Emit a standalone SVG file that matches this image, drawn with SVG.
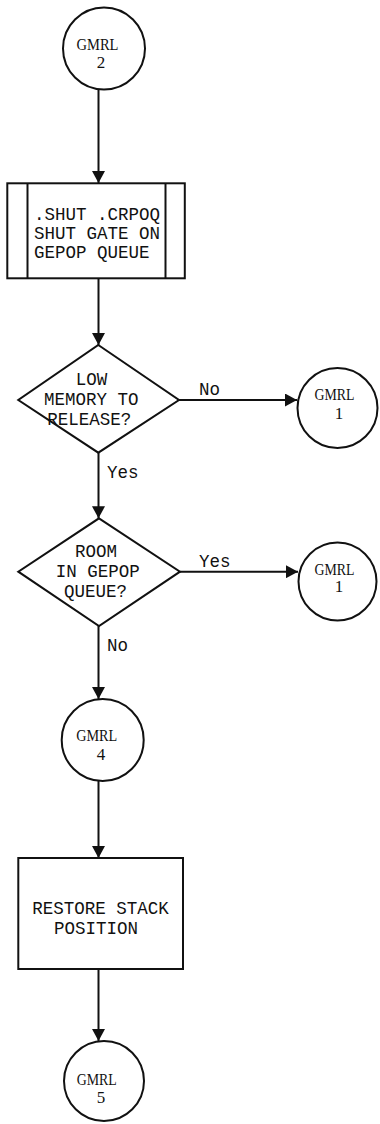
<svg xmlns="http://www.w3.org/2000/svg" width="380" height="1124" viewBox="0 0 380 1124">
<defs>
<style>
.shape{fill:#fff;stroke:#111;stroke-width:2}
.conn{fill:none;stroke:#111;stroke-width:2}
.mono{font-family:"Liberation Mono","DejaVu Sans Mono",monospace;font-size:17.5px;fill:#111}
.serif{font-family:"Liberation Serif","DejaVu Serif",serif;font-size:17px;fill:#111}
</style>
<marker id="ah" markerUnits="userSpaceOnUse" markerWidth="13" markerHeight="13" refX="12" refY="6.5" orient="auto">
<path d="M0,0 L12,6.5 L0,13 z" fill="#111"/>
</marker>
</defs>
<rect width="380" height="1124" fill="#fff"/>
<g id="connectors">
<path class="conn" d="M98.5,89.5 V183" marker-end="url(#ah)"/>
<path class="conn" d="M98.5,278.3 V345" marker-end="url(#ah)"/>
<path class="conn" d="M179,400 H297" marker-end="url(#ah)"/>
<path class="conn" d="M98.5,452.7 V518.3" marker-end="url(#ah)"/>
<path class="conn" d="M180,571.7 H298" marker-end="url(#ah)"/>
<path class="conn" d="M98.5,626 V699" marker-end="url(#ah)"/>
<path class="conn" d="M98.5,781 V858" marker-end="url(#ah)"/>
<path class="conn" d="M98.5,969 V1041" marker-end="url(#ah)"/>
<text class="mono" x="199" y="395">No</text>
<text class="mono" x="107" y="477.7">Yes</text>
<text class="mono" x="199" y="566.7">Yes</text>
<text class="mono" x="107" y="650.7">No</text>
</g>
<g id="gmrl2">
<circle class="shape" cx="104" cy="48.5" r="41"/>
<text class="serif" x="97.5" y="50" text-anchor="middle" textLength="42" lengthAdjust="spacingAndGlyphs">GMRL</text>
<text class="serif" x="101" y="68.3" text-anchor="middle">2</text>
</g>
<g id="shut">
<rect class="shape" x="7.3" y="183.3" width="177.5" height="95"/>
<line class="conn" x1="27.5" y1="183.3" x2="27.5" y2="278.3"/>
<line class="conn" x1="165.5" y1="183.3" x2="165.5" y2="278.3"/>
<text class="mono" x="34" y="220">.SHUT .CRPOQ</text>
<text class="mono" x="34" y="239">SHUT GATE ON</text>
<text class="mono" x="34" y="258">GEPOP QUEUE</text>
</g>
<g id="lowmem">
<polygon class="shape" points="98.3,345 179,400 98.3,452.7 18.3,400"/>
<text class="mono" x="75.7" y="385">LOW</text>
<text class="mono" x="44" y="405">MEMORY TO</text>
<text class="mono" x="47.3" y="425">RELEASE?</text>
</g>
<g id="gmrl1a">
<circle class="shape" cx="337.5" cy="408" r="40"/>
<text class="serif" x="334.5" y="400" text-anchor="middle" textLength="40" lengthAdjust="spacingAndGlyphs">GMRL</text>
<text class="serif" x="339" y="419" text-anchor="middle">1</text>
</g>
<g id="room">
<polygon class="shape" points="99,518.3 180,571.7 99,626 18.3,571.7"/>
<text class="mono" x="75" y="557">ROOM</text>
<text class="mono" x="55.7" y="577">IN GEPOP</text>
<text class="mono" x="64" y="597">QUEUE?</text>
</g>
<g id="gmrl1b">
<circle class="shape" cx="337.5" cy="581.5" r="39"/>
<text class="serif" x="334.5" y="575" text-anchor="middle" textLength="40" lengthAdjust="spacingAndGlyphs">GMRL</text>
<text class="serif" x="339" y="592" text-anchor="middle">1</text>
</g>
<g id="gmrl4">
<circle class="shape" cx="102.7" cy="740" r="41"/>
<text class="serif" x="96.7" y="741" text-anchor="middle" textLength="41" lengthAdjust="spacingAndGlyphs">GMRL</text>
<text class="serif" x="101" y="760" text-anchor="middle">4</text>
</g>
<g id="restore">
<rect class="shape" x="18.3" y="858" width="164.7" height="111"/>
<text class="mono" x="32.3" y="913.5">RESTORE STACK</text>
<text class="mono" x="54" y="933.5">POSITION</text>
</g>
<g id="gmrl5">
<circle class="shape" cx="104" cy="1081" r="40"/>
<text class="serif" x="96.7" y="1085" text-anchor="middle" textLength="40" lengthAdjust="spacingAndGlyphs">GMRL</text>
<text class="serif" x="101" y="1103.3" text-anchor="middle">5</text>
</g>
</svg>
